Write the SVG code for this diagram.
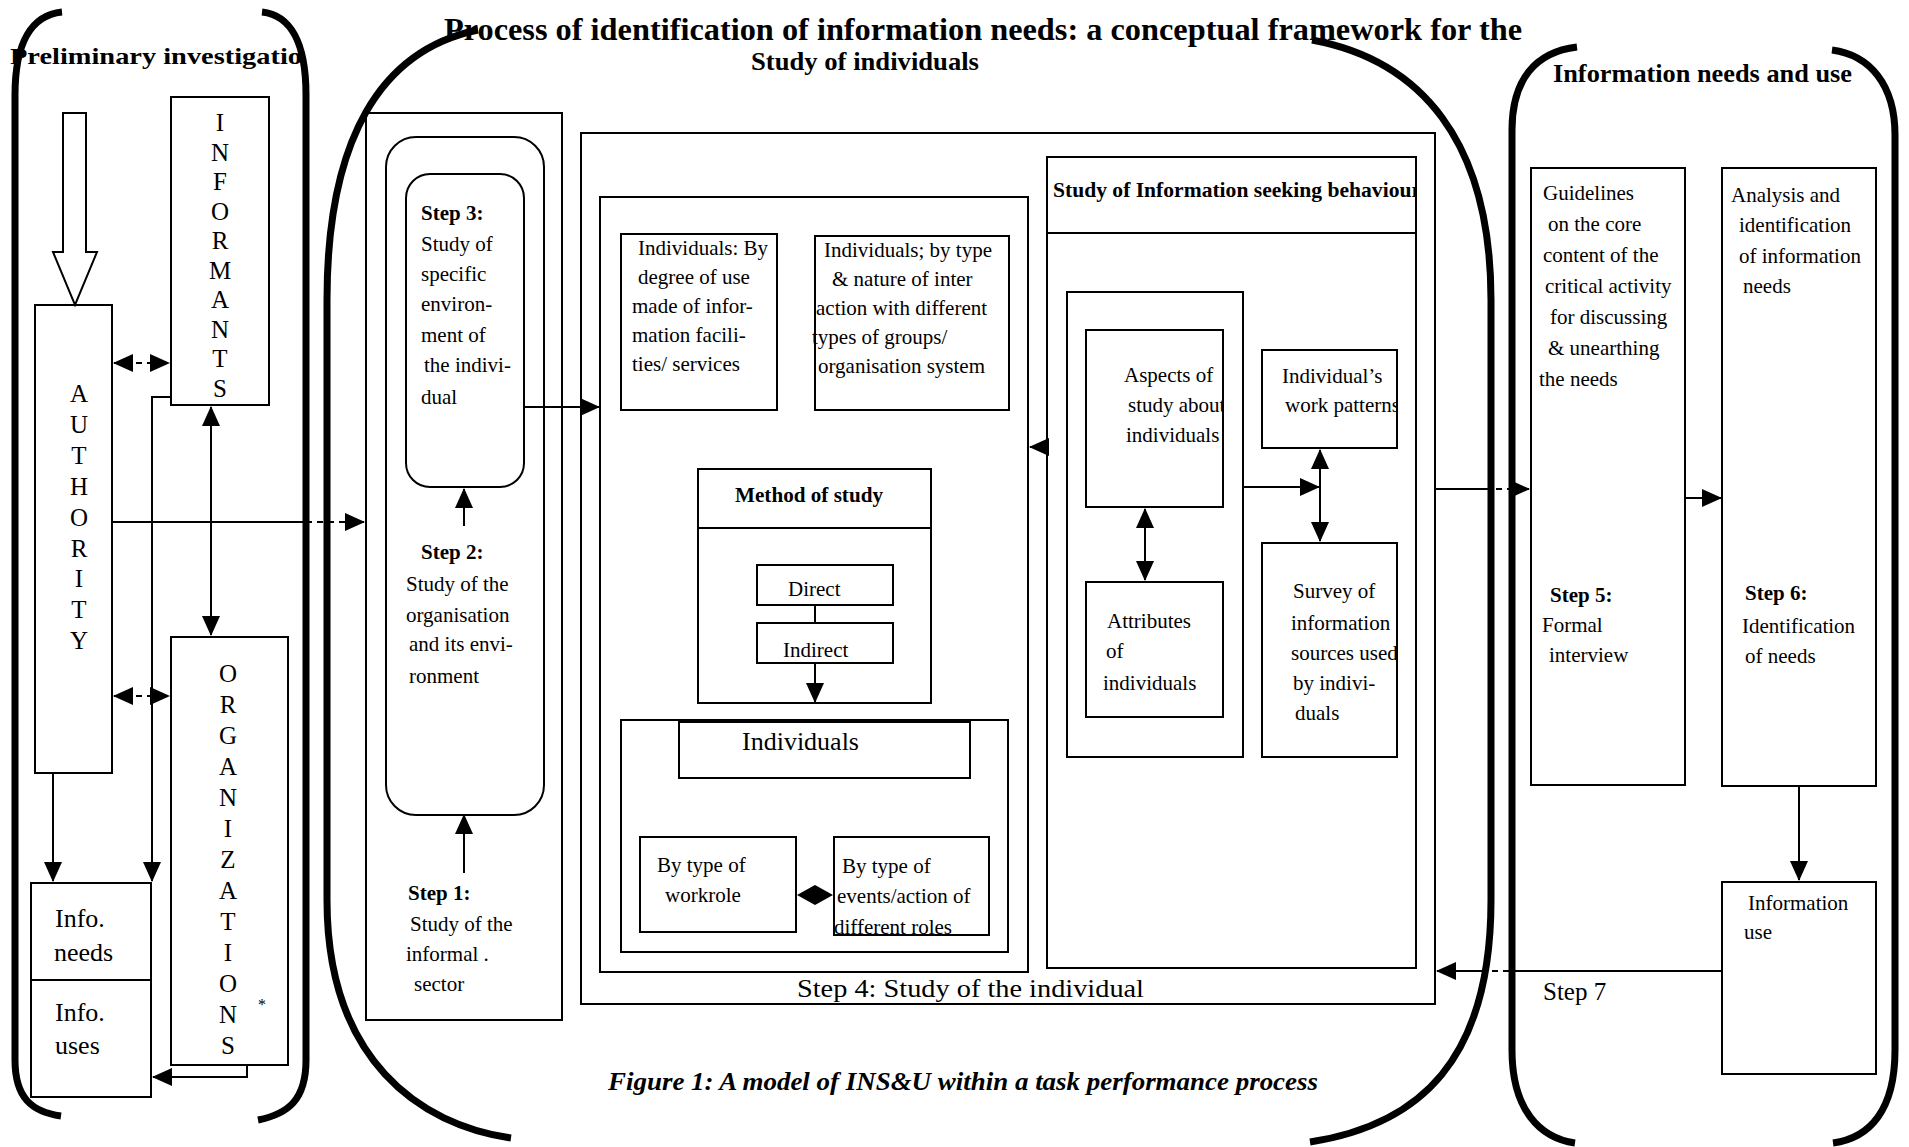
<svg xmlns="http://www.w3.org/2000/svg" width="1909" height="1147" viewBox="0 0 1909 1147">
<style>
text{font-family:"Liberation Serif","Times New Roman",serif;fill:#000}
.t{font-size:21px}
.b{font-weight:bold}
.v{font-size:25px;text-anchor:middle}
.box{fill:none;stroke:#000;stroke-width:2}
.br{fill:none;stroke:#000;stroke-width:7}
.ln{fill:none;stroke:#000;stroke-width:2}
.dash{stroke-dasharray:6 5}
.ae{marker-end:url(#ah)}
.as{marker-start:url(#ah)}
</style>
<defs>
<marker id="ah" markerUnits="userSpaceOnUse" markerWidth="20" markerHeight="18" refX="19" refY="9" orient="auto-start-reverse" viewBox="0 0 20 18"><path d="M0,0 L20,9 L0,18 z" fill="#000"/></marker>
<clipPath id="cSeek"><rect x="1047" y="157" width="369" height="76"/></clipPath>
<clipPath id="cAsp"><rect x="1086" y="330" width="137" height="177"/></clipPath>
<clipPath id="cWP"><rect x="1262" y="350" width="135" height="98"/></clipPath>
<clipPath id="cSur"><rect x="1262" y="543" width="135" height="214"/></clipPath>
<clipPath id="cEv"><rect x="834" y="837" width="155" height="98"/></clipPath>
</defs>
<rect width="1909" height="1147" fill="#fff"/>

<!-- titles -->
<g id="titles">
<text x="444" y="40" font-size="31" class="b" textLength="1078" lengthAdjust="spacingAndGlyphs">Process of identification of information needs: a conceptual framework for the</text>
<text x="751" y="70" font-size="25" class="b" textLength="228" lengthAdjust="spacingAndGlyphs">Study of individuals</text>
<text x="10" y="64" font-size="24" class="b" textLength="292" lengthAdjust="spacingAndGlyphs">Preliminary  investigatio</text>
<text x="1553" y="82" font-size="25" class="b" textLength="299" lengthAdjust="spacingAndGlyphs">Information needs and use</text>
<text x="608" y="1090" font-size="25" font-style="italic" class="b" textLength="710" lengthAdjust="spacingAndGlyphs">Figure 1: A model of INS&amp;U within a task performance process</text>
</g>

<!-- containers (thick brackets) -->
<g id="containers">
<path class="br" d="M62,12 C32,15 15,42 15,95 L15,1060 C15,1098 32,1112 61,1116"/>
<path class="br" d="M262,12 C290,15 306,42 306,95 L306,1060 C306,1100 288,1114 258,1120"/>
<path class="br" d="M478,30 C380,50 327,140 327,300 L327,900 C327,1060 420,1125 511,1138"/>
<path class="br" d="M1312,40 C1420,60 1491,140 1491,300 L1491,900 C1491,1060 1420,1125 1310,1142"/>
<path class="br" d="M1577,47 C1535,52 1512,80 1512,130 L1512,1050 C1512,1110 1540,1138 1575,1143"/>
<path class="br" d="M1832,50 C1870,55 1895,85 1895,135 L1895,1050 C1895,1110 1870,1138 1833,1143"/>
</g>

<!-- left section nodes -->
<g id="n-authority">
<rect class="box" x="35" y="305" width="77" height="468"/>
<text class="v" x="79" y="402">A</text>
<text class="v" x="79" y="433">U</text>
<text class="v" x="79" y="464">T</text>
<text class="v" x="79" y="495">H</text>
<text class="v" x="79" y="526">O</text>
<text class="v" x="79" y="557">R</text>
<text class="v" x="79" y="587">I</text>
<text class="v" x="79" y="618">T</text>
<text class="v" x="79" y="649">Y</text>
</g>
<g id="n-informants">
<rect class="box" x="171" y="97" width="98" height="308"/>
<text class="v" x="220" y="131">I</text>
<text class="v" x="220" y="161">N</text>
<text class="v" x="220" y="190">F</text>
<text class="v" x="220" y="220">O</text>
<text class="v" x="220" y="249">R</text>
<text class="v" x="220" y="279">M</text>
<text class="v" x="220" y="308">A</text>
<text class="v" x="220" y="338">N</text>
<text class="v" x="220" y="367">T</text>
<text class="v" x="220" y="397">S</text>
</g>
<g id="n-organizations">
<rect class="box" x="171" y="637" width="117" height="428"/>
<text class="v" x="228" y="682">O</text>
<text class="v" x="228" y="713">R</text>
<text class="v" x="228" y="744">G</text>
<text class="v" x="228" y="775">A</text>
<text class="v" x="228" y="806">N</text>
<text class="v" x="228" y="837">I</text>
<text class="v" x="228" y="868">Z</text>
<text class="v" x="228" y="899">A</text>
<text class="v" x="228" y="930">T</text>
<text class="v" x="228" y="961">I</text>
<text class="v" x="228" y="992">O</text>
<text class="v" x="228" y="1023">N</text>
<text class="v" x="228" y="1054">S</text>
<text x="258" y="1010" font-size="16">*</text>
</g>
<g id="n-info">
<rect class="box" x="31" y="883" width="120" height="214"/>
<line class="ln" x1="31" y1="980" x2="151" y2="980"/>
<text x="55" y="927" font-size="26">Info.</text>
<text x="54" y="961" font-size="26">needs</text>
<text x="55" y="1021" font-size="26">Info.</text>
<text x="55" y="1054" font-size="26">uses</text>
</g>

<!-- step column -->
<g id="n-steps">
<rect class="box" x="366" y="113" width="196" height="907"/>
</g>
<g id="n-step2">
<rect class="box" x="386" y="137" width="158" height="678" rx="30"/>
<text class="t b" x="421" y="559">Step 2:</text>
<text class="t" x="406" y="591">Study of  the</text>
<text class="t" x="406" y="622">organisation</text>
<text class="t" x="409" y="651">and its envi-</text>
<text class="t" x="409" y="683">ronment</text>
</g>
<g id="n-step3">
<rect class="box" x="406" y="174" width="118" height="313" rx="24"/>
<text class="t b" x="421" y="220">Step 3:</text>
<text class="t" x="421" y="251">Study of</text>
<text class="t" x="421" y="281">specific</text>
<text class="t" x="421" y="311">environ-</text>
<text class="t" x="421" y="342">ment of</text>
<text class="t" x="424" y="372">the indivi-</text>
<text class="t" x="421" y="404">dual</text>
</g>
<g id="n-step1">
<text class="t b" x="408" y="900">Step 1:</text>
<text class="t" x="410" y="931">Study of the</text>
<text class="t" x="406" y="961">informal .</text>
<text class="t" x="414" y="991">sector</text>
</g>

<!-- step 4 -->
<g id="n-step4">
<rect class="box" x="581" y="133" width="854" height="871"/>
<text x="797" y="997" font-size="25" textLength="347" lengthAdjust="spacingAndGlyphs">Step 4: Study of the individual</text>
</g>
<g id="n-indgroup">
<rect class="box" x="600" y="197" width="428" height="775"/>
</g>
<g id="n-degree">
<rect class="box" x="621" y="234" width="156" height="176"/>
<text class="t" x="638" y="255">Individuals: By</text>
<text class="t" x="638" y="284">degree of use</text>
<text class="t" x="632" y="313">made of infor-</text>
<text class="t" x="632" y="342">mation facili-</text>
<text class="t" x="632" y="371">ties/ services</text>
</g>
<g id="n-interaction">
<rect class="box" x="815" y="236" width="194" height="174"/>
<text class="t" x="824" y="257">Individuals; by  type</text>
<text class="t" x="832" y="286">&amp; nature of inter</text>
<text class="t" x="816" y="315">action with different</text>
<text class="t" x="812" y="344">types of groups/</text>
<text class="t" x="818" y="373">organisation system</text>
</g>
<g id="n-method">
<rect class="box" x="698" y="469" width="233" height="234"/>
<line class="ln" x1="698" y1="528" x2="931" y2="528"/>
<text x="735" y="502" font-size="20" class="b" textLength="148" lengthAdjust="spacingAndGlyphs">Method of study</text>
</g>
<g id="n-direct">
<rect class="box" x="757" y="565" width="136" height="40"/>
<text x="788" y="596" font-size="21">Direct</text>
</g>
<g id="n-indirect">
<rect class="box" x="757" y="623" width="136" height="40"/>
<text x="783" y="657" font-size="21">Indirect</text>
</g>
<g id="n-individuals">
<rect class="box" x="621" y="720" width="387" height="232"/>
<rect class="box" x="679" y="722" width="291" height="56"/>
<text x="742" y="750" font-size="26">Individuals</text>
</g>
<g id="n-workrole">
<rect class="box" x="640" y="837" width="156" height="95"/>
<text class="t" x="657" y="872">By type of</text>
<text class="t" x="665" y="902">workrole</text>
</g>
<g id="n-events">
<rect class="box" x="834" y="837" width="155" height="98"/>
<g clip-path="url(#cEv)">
<text class="t" x="842" y="873">By type of</text>
<text class="t" x="837" y="903">events/action of</text>
<text class="t" x="834" y="934">different roles</text>
</g>
</g>
<g id="n-seeking">
<rect class="box" x="1047" y="157" width="369" height="811"/>
<line class="ln" x1="1047" y1="233" x2="1416" y2="233"/>
<text x="1053" y="197" font-size="21" class="b" textLength="368" lengthAdjust="spacingAndGlyphs" clip-path="url(#cSeek)">Study of Information seeking behaviour</text>
</g>
<g id="n-aspgroup">
<rect class="box" x="1067" y="292" width="176" height="465"/>
</g>
<g id="n-aspects">
<rect class="box" x="1086" y="330" width="137" height="177"/>
<g clip-path="url(#cAsp)">
<text class="t" x="1124" y="382">Aspects of</text>
<text class="t" x="1128" y="412">study about</text>
<text class="t" x="1126" y="442">individuals</text>
</g>
</g>
<g id="n-attributes">
<rect class="box" x="1086" y="582" width="137" height="135"/>
<text class="t" x="1107" y="628">Attributes</text>
<text class="t" x="1106" y="658">of</text>
<text class="t" x="1103" y="690">individuals</text>
</g>
<g id="n-workpatterns">
<rect class="box" x="1262" y="350" width="135" height="98"/>
<g clip-path="url(#cWP)">
<text class="t" x="1282" y="383">Individual’s</text>
<text class="t" x="1285" y="412">work patterns</text>
</g>
</g>
<g id="n-survey">
<rect class="box" x="1262" y="543" width="135" height="214"/>
<g clip-path="url(#cSur)">
<text class="t" x="1293" y="598">Survey of</text>
<text class="t" x="1291" y="630">information</text>
<text class="t" x="1291" y="660">sources used</text>
<text class="t" x="1293" y="690">by indivi-</text>
<text class="t" x="1295" y="720">duals</text>
</g>
</g>

<!-- right section -->
<g id="n-guidelines">
<rect class="box" x="1531" y="168" width="154" height="617"/>
<text class="t" x="1543" y="200">Guidelines</text>
<text class="t" x="1548" y="231">on the core</text>
<text class="t" x="1543" y="262">content of the</text>
<text class="t" x="1545" y="293">critical activity</text>
<text class="t" x="1550" y="324">for discussing</text>
<text class="t" x="1548" y="355">&amp; unearthing</text>
<text class="t" x="1539" y="386">the needs</text>
<text class="t b" x="1550" y="602">Step 5:</text>
<text class="t" x="1542" y="632">Formal</text>
<text class="t" x="1549" y="662">interview</text>
</g>
<g id="n-analysis">
<rect class="box" x="1722" y="168" width="154" height="618"/>
<text class="t" x="1731" y="202">Analysis and</text>
<text class="t" x="1739" y="232">identification</text>
<text class="t" x="1739" y="263">of information</text>
<text class="t" x="1743" y="293">needs</text>
<text class="t b" x="1745" y="600">Step 6:</text>
<text class="t" x="1742" y="633">Identification</text>
<text class="t" x="1745" y="663">of needs</text>
</g>
<g id="n-infouse">
<rect class="box" x="1722" y="882" width="154" height="192"/>
<text class="t" x="1748" y="910">Information</text>
<text class="t" x="1744" y="939">use</text>
</g>

<!-- connectors -->
<g id="connectors">
<path d="M63,113 L86,113 L86,252 L97,252 L75,305 L53,252 L63,252 Z" fill="#fff" stroke="#000" stroke-width="2"/>
<line class="ln dash ae as" x1="114" y1="363" x2="169" y2="363"/>
<line class="ln dash ae as" x1="114" y1="696" x2="169" y2="696"/>
<line class="ln ae as" x1="211" y1="407" x2="211" y2="635"/>
<path class="ln ae" d="M171,397 L152,397 L152,881"/>
<path class="ln ae" d="M53,773 L53,881"/>
<path class="ln ae" d="M247,1065 L247,1077 L153,1077"/>
<line class="ln" x1="112" y1="522" x2="306" y2="522"/>
<line class="ln dash ae" x1="306" y1="522" x2="364" y2="522"/>
<line class="ln ae" x1="464" y1="526" x2="464" y2="489"/>
<line class="ln ae" x1="464" y1="873" x2="464" y2="815"/>
<line class="ln ae" x1="524" y1="407" x2="599" y2="407"/>
<line class="ln" x1="815" y1="605" x2="815" y2="623"/>
<line class="ln ae" x1="815" y1="663" x2="815" y2="702"/>
<polygon points="797,895 815,885 833,895 815,905" fill="#000"/>
<line class="ln ae" x1="1047" y1="447" x2="1030" y2="447"/>
<line class="ln ae" x1="1243" y1="487" x2="1319" y2="487"/>
<line class="ln ae as" x1="1320" y1="450" x2="1320" y2="541"/>
<line class="ln ae as" x1="1145" y1="509" x2="1145" y2="580"/>
<line class="ln" x1="1435" y1="489" x2="1485" y2="489"/>
<line class="ln dash" x1="1485" y1="489" x2="1515" y2="489"/>
<line class="ln ae" x1="1515" y1="489" x2="1529" y2="489"/>
<line class="ln ae" x1="1685" y1="498" x2="1721" y2="498"/>
<line class="ln ae" x1="1799" y1="786" x2="1799" y2="880"/>
<line class="ln" x1="1722" y1="971" x2="1520" y2="971"/>
<line class="ln dash" x1="1520" y1="971" x2="1485" y2="971"/>
<line class="ln ae" x1="1485" y1="971" x2="1437" y2="971"/>
<text x="1543" y="1000" font-size="25">Step 7</text>
</g>
</svg>
